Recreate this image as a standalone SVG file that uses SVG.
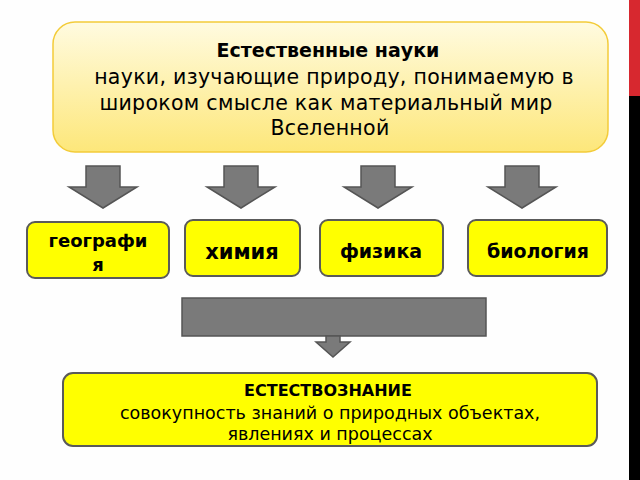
<svg xmlns="http://www.w3.org/2000/svg" width="640" height="480" viewBox="0 0 640 480">
<style>
.t{font-family:"DejaVu Sans","Noto Sans",sans-serif;fill:#000;text-anchor:middle}
.box{fill:#ffff00;stroke:#5a5a5a;stroke-width:2}
.arr{fill:#7a7a7a;stroke:#555;stroke-width:1.5}
</style>
<defs>
<linearGradient id="g" x1="0" y1="0" x2="0" y2="1">
<stop offset="0" stop-color="#fffbe0"/><stop offset="1" stop-color="#fde77a"/>
</linearGradient>
</defs>
<rect width="640" height="480" fill="#fefefe"/>
<rect x="629" y="0" width="11" height="96" fill="#d7282f"/>
<rect x="629" y="96" width="11" height="384" fill="#000"/>
<g id="top">
<rect x="53" y="22" width="555" height="130" rx="22" fill="url(#g)" stroke="#f3cc3a" stroke-width="1.5"/>
<text class="t" x="328" y="57" font-size="19" font-weight="bold">Естественные науки</text>
<text class="t" x="334" y="84" font-size="20.5" letter-spacing="0.3">науки, изучающие природу, понимаемую в</text>
<text class="t" x="326" y="110" font-size="20.5" letter-spacing="0.3">широком смысле как материальный мир</text>
<text class="t" x="330" y="135" font-size="20.5" letter-spacing="0.3">Вселенной</text>
</g>
<g id="connectors">
<path class="arr" d="M86 166h34v21h17l-34 21l-34-21h17z"/>
<path class="arr" d="M224 166h34v21h17l-34 21l-34-21h17z"/>
<path class="arr" d="M361 166h34v21h17l-34 21l-34-21h17z"/>
<path class="arr" d="M505 166h34v21h17l-34 21l-34-21h17z"/>
<rect class="arr" x="182" y="298" width="304" height="38"/>
<path class="arr" d="M326 336h14v6h10l-17 15l-17-15h10z"/>
</g>
<g id="geo"><rect class="box" x="27" y="222" width="142" height="56" rx="8"/>
<text class="t" x="98" y="247" font-size="18" font-weight="bold">географи</text>
<text class="t" x="98" y="271" font-size="18" font-weight="bold">я</text></g>
<g id="chem"><rect class="box" x="185" y="220" width="115" height="56" rx="8"/>
<text class="t" x="242" y="259" font-size="21" font-weight="bold">химия</text></g>
<g id="phys"><rect class="box" x="320" y="220" width="123" height="56" rx="8"/>
<text class="t" x="381" y="258" font-size="19" font-weight="bold">физика</text></g>
<g id="bio"><rect class="box" x="468" y="220" width="139" height="56" rx="8"/>
<text class="t" x="538" y="258" font-size="19" font-weight="bold">биология</text></g>
<g id="bottom"><rect class="box" x="63" y="373" width="534" height="73" rx="10"/>
<text class="t" x="328" y="396" font-size="16" font-weight="bold">ЕСТЕСТВОЗНАНИЕ</text>
<text class="t" x="330" y="419" font-size="17.5">совокупность знаний о природных объектах,</text>
<text class="t" x="330" y="440" font-size="17.5">явлениях и процессах</text></g>
</svg>
